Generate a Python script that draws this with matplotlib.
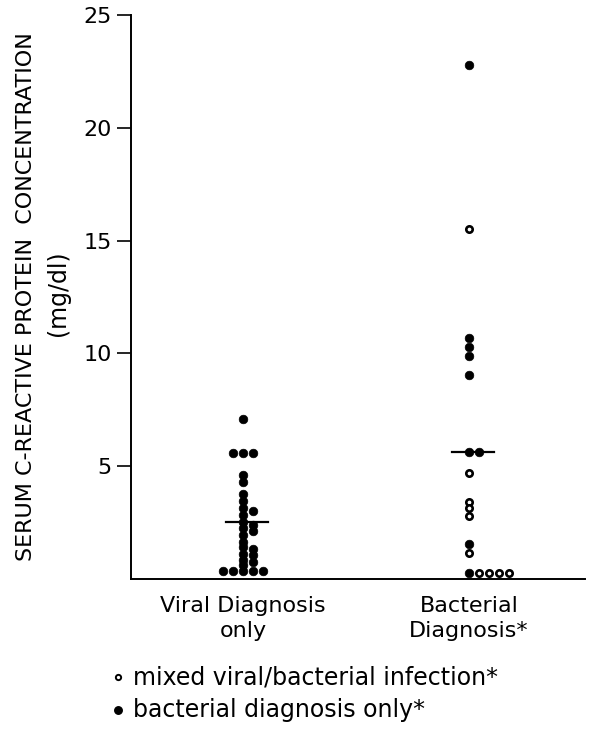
import numpy as np
import matplotlib
matplotlib.use("Agg")
import matplotlib.pyplot as plt
from matplotlib.lines import Line2D

# values (mg/dl)
group_labels = ["Viral Diagnosis\nonly", "Bacterial\nDiagnosis*"]
viral_crp = [7.1, 5.6, 5.6, 5.6, 4.6, 4.3, 3.75, 3.45, 3.15, 3.0, 2.85, 2.55,
             2.4, 2.25, 2.15, 1.95, 1.65, 1.4, 1.35, 1.1, 1.05, 0.85, 0.75,
             0.6, 0.35, 0.35, 0.35, 0.35, 0.35]
bacterial_only_crp = [22.8, 10.7, 10.3, 9.9, 9.05, 5.63, 5.63, 1.55, 0.25]
mixed_crp = [15.5, 4.7, 3.42, 3.13, 2.79, 1.14, 0.25, 0.25, 0.25, 0.25]
group_means = [2.54, 5.63]
y_ticks = [5, 10, 15, 20, 25]
legend_labels = ["mixed viral/bacterial infection*", "bacterial diagnosis only*"]

plt.rcParams["font.family"] = "DejaVu Sans"

fig = plt.figure(figsize=(5.93, 7.3), dpi=100)
ax = fig.add_axes([0.2209, 0.2068, 0.7656, 0.7727])
ax.set_ylim(0, 25)
ax.set_xlim(-0.496, 1.513)

bbox = ax.get_window_extent()
px_per_y = bbox.height / 25.0
px_per_x = bbox.width / (1.513 + 0.496)


def swarm_slots(values, order, min_px=5.5, step_px=10.0):
    # simple dot-plot stacking: first free slot in the given order
    placed = []
    slots = []
    for v in values:
        chosen = order[-1]
        for s in order:
            ok = True
            for ps, pv in placed:
                d = np.hypot((s - ps) * step_px, (v - pv) * px_per_y)
                if d < min_px:
                    ok = False
                    break
            if ok:
                chosen = s
                break
        placed.append((chosen, v))
        slots.append(chosen)
    return slots


step = 10.0 / px_per_x
filled = dict(color="black", ms=6.2, mew=0.5, clip_on=False, zorder=3)
hollow = dict(mfc="white", mec="black", ms=4.6, mew=1.9, clip_on=False, zorder=3)

# viral group: all filled
v_sorted = sorted(viral_crp, reverse=True)
v_slots = swarm_slots(v_sorted, [0, 1, -1, 2, -2, 3, -3])
ax.plot(np.array(v_slots) * step, v_sorted, "o", linestyle="none", **filled)

# bacterial group: filled + open, stacked to the right
b_vals = [(v, 0) for v in bacterial_only_crp] + [(v, 1) for v in mixed_crp]
b_vals = sorted(b_vals, key=lambda t: (-t[0], t[1]))
b_slots = swarm_slots([t[0] for t in b_vals], [0, 1, 2, 3, 4, 5])
for (v, kind), s in zip(b_vals, b_slots):
    style = filled if kind == 0 else hollow
    ax.plot(1 + s * step, v, "o", **style)

# mean lines
half = 21.0 / px_per_x
shift = 4.0 / px_per_x
for i, m in enumerate(group_means):
    ax.plot([i - half + shift, i + half + shift], [m, m],
            color="black", lw=1.6, zorder=2)

for side in ["top", "right"]:
    ax.spines[side].set_visible(False)
ax.spines["left"].set_linewidth(1.4)
ax.spines["bottom"].set_linewidth(1.4)

ax.set_yticks(y_ticks)
ax.set_yticklabels([str(t) for t in y_ticks], fontsize=16)
ax.tick_params(axis="y", length=10, width=1.2, pad=4)
ax.set_xticks([0, 1])
ax.set_xticklabels(group_labels, fontsize=16, linespacing=1.3)
ax.tick_params(axis="x", length=0, pad=12)

fig.text(0.044, 0.231, "SERUM C-REACTIVE PROTEIN  CONCENTRATION",
         rotation=90, ha="center", va="bottom", fontsize=16)
fig.text(0.098, 0.599, "(mg/dl)", rotation=90, ha="center", va="center",
         fontsize=17)

# legend rows
leg_y = [0.0726, 0.0274]
fig.add_artist(Line2D([0.199], [leg_y[0]], marker="o", mfc="white",
                      mec="black", ms=3.8, mew=1.4, linestyle="none",
                      transform=fig.transFigure))
fig.add_artist(Line2D([0.199], [leg_y[1]], marker="o", color="black",
                      ms=5.4, linestyle="none", transform=fig.transFigure))
for y, lab in zip(leg_y, legend_labels):
    fig.text(0.224, y, lab, ha="left", va="center", fontsize=17)

fig.savefig("out.png", dpi=100)
plt.close(fig)
